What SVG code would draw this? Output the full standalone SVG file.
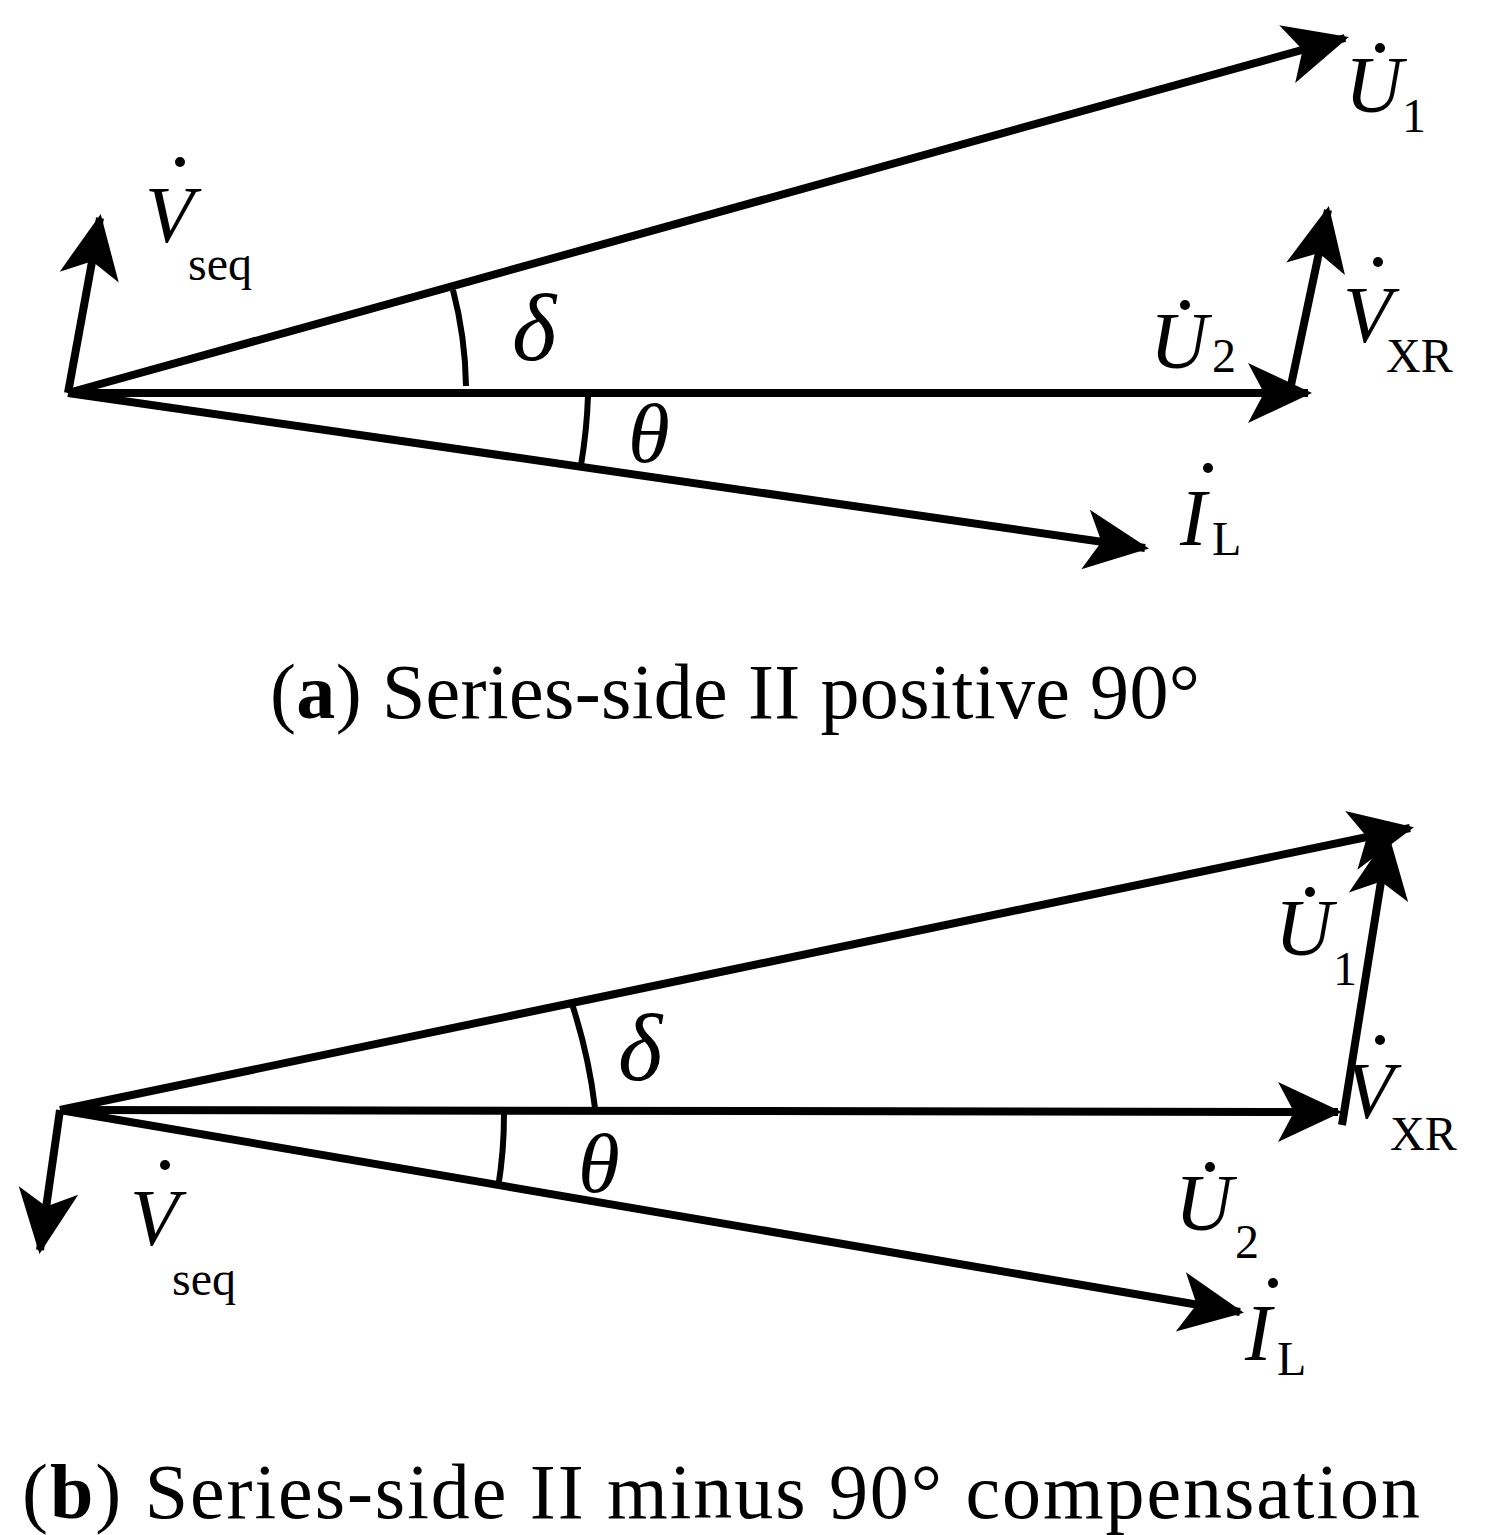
<svg xmlns="http://www.w3.org/2000/svg" width="1500" height="1535" viewBox="0 0 1500 1535">
<style>
.v{stroke:#000;stroke-width:8;fill:none;marker-end:url(#ah)}
.a{stroke:#000;stroke-width:6;fill:none}
.t{font-family:"Liberation Serif",serif;font-style:italic;font-size:80px;fill:#000}
.s{font-family:"Liberation Serif",serif;font-size:48px;fill:#000}
.g{font-family:"Liberation Serif",serif;font-style:italic;font-size:95px;fill:#000}
.c{font-family:"Liberation Serif",serif;font-size:78px;fill:#000}
</style>
<defs>
<marker id="ah" viewBox="-64 -32 68 64" refX="0" refY="0" markerWidth="68" markerHeight="64" markerUnits="userSpaceOnUse" orient="auto">
<path d="M4,0 L-60,-30 L-44,0 L-60,30 z" fill="#000"/>
</marker>
</defs>
<g id="connectors">
<line class="v" x1="68" y1="393" x2="1345" y2="38"/>
<line class="v" x1="68" y1="393" x2="1308" y2="393"/>
<line class="v" x1="68" y1="393" x2="1145" y2="548"/>
<line class="v" x1="68" y1="393" x2="100" y2="218"/>
<line class="v" x1="1290" y1="390" x2="1328" y2="210"/>
<path class="a" d="M453,290 A400,400 0 0 1 466,386"/>
<path class="a" d="M588,396 A520,520 0 0 1 581,465"/>
<line class="v" x1="60" y1="1110" x2="1410" y2="828"/>
<line class="v" x1="60" y1="1110" x2="1338" y2="1112"/>
<line class="v" x1="60" y1="1110" x2="1240" y2="1312"/>
<line class="v" x1="60" y1="1110" x2="40" y2="1250"/>
<line class="v" x1="1342" y1="1125" x2="1388" y2="838"/>
<path class="a" d="M572,1004 A535,535 0 0 1 595,1108"/>
<path class="a" d="M504,1113 A450,450 0 0 1 498,1188"/>
</g>
<g id="labels-a">
<text class="t" x="1345" y="112">U</text><text class="s" x="1402" y="132">1</text><circle cx="1380" cy="48" r="5"/>
<text class="t" x="145" y="242">V</text><text class="s" x="188" y="280">seq</text><circle cx="180" cy="162" r="5"/>
<text class="g" x="512" y="360">δ</text>
<text class="t" x="1150" y="368">U</text><text class="s" x="1212" y="372">2</text><circle cx="1185" cy="305" r="5"/>
<text class="t" x="1343" y="342">V</text><text class="s" x="1386" y="372">XR</text><circle cx="1378" cy="262" r="5"/>
<text class="g" x="628" y="462" style="font-size:85px">θ</text>
<text class="t" x="1180" y="545">I</text><text class="s" x="1212" y="555">L</text><circle cx="1208" cy="468" r="5"/>
<text class="c" x="270" y="718" textLength="930">(<tspan font-weight="bold">a</tspan>) Series-side II positive 90°</text>
</g>
<g id="labels-b">
<text class="t" x="1275" y="955">U</text><text class="s" x="1333" y="985">1</text><circle cx="1310" cy="892" r="5"/>
<text class="g" x="618" y="1080">δ</text>
<text class="t" x="1345" y="1118">V</text><text class="s" x="1390" y="1150">XR</text><circle cx="1380" cy="1040" r="5"/>
<text class="g" x="578" y="1192" style="font-size:85px">θ</text>
<text class="t" x="1175" y="1230">U</text><text class="s" x="1235" y="1258">2</text><circle cx="1210" cy="1167" r="5"/>
<text class="t" x="130" y="1245">V</text><text class="s" x="172" y="1295">seq</text><circle cx="165" cy="1165" r="5"/>
<text class="t" x="1245" y="1360">I</text><text class="s" x="1277" y="1375">L</text><circle cx="1273" cy="1283" r="5"/>
<text class="c" x="22" y="1518" textLength="1398">(<tspan font-weight="bold">b</tspan>) Series-side II minus 90° compensation</text>
</g>
</svg>
